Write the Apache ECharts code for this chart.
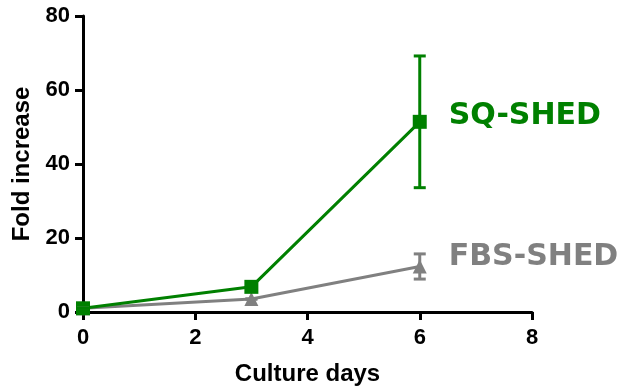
<!DOCTYPE html>
<html>
<head>
<meta charset="utf-8">
<script src="https://cdn.jsdelivr.net/npm/echarts@6/dist/echarts.min.js"></script>
<style>
  html, body { margin: 0; padding: 0; background: #fff; }
  #chart { width: 623px; height: 390px; }
</style>
</head>
<body>
<div id="chart"></div>
<script>
// Culture days at which cells were counted
var days = [0, 3, 6];

// Mean fold increase and error (SD) per time point
var sqMean = [1.0, 6.8, 51.4];
var sqErr = [0, 0, 17.8];
var fbsMean = [1.0, 3.5, 12.3];
var fbsErr = [0, 0, 3.4];

var xTicks = [0, 2, 4, 6, 8];
var yTicks = [0, 20, 40, 60, 80];

var GREEN = '#008000';
var GRAY = '#808080';

function pairs(xs, ys) {
  return xs.map(function (x, i) { return [x, ys[i]]; });
}
function errTriples(xs, ys, es) {
  return xs.map(function (x, i) { return [x, ys[i] - es[i], ys[i] + es[i]]; });
}

function errorBarSeries(data, color) {
  return {
    type: 'custom',
    data: data,
    z: 5,
    silent: true,
    renderItem: function (params, api) {
      var x = api.value(0);
      var lo = api.coord([x, api.value(1)]);
      var hi = api.coord([x, api.value(2)]);
      var half = 6;
      var style = { stroke: color, lineWidth: 3 };
      return {
        type: 'group',
        children: [
          { type: 'line', shape: { x1: lo[0], y1: lo[1], x2: hi[0], y2: hi[1] }, style: style },
          { type: 'line', shape: { x1: hi[0] - half, y1: hi[1], x2: hi[0] + half, y2: hi[1] }, style: style },
          { type: 'line', shape: { x1: lo[0] - half, y1: lo[1], x2: lo[0] + half, y2: lo[1] }, style: style }
        ]
      };
    }
  };
}

var labelFont = 'Verdana, "DejaVu Sans", sans-serif';
var axisFont = 'Arial, "Liberation Sans", sans-serif';

var chart = echarts.init(document.getElementById('chart'), null, { renderer: 'canvas' });

chart.setOption({
  animation: false,
  backgroundColor: '#ffffff',
  grid: { left: 83, right: 91, top: 16, bottom: 78, containLabel: false, outerBoundsMode: 'none' },
  xAxis: {
    type: 'value',
    min: xTicks[0],
    max: xTicks[xTicks.length - 1],
    interval: 2,
    name: 'Culture days',
    nameLocation: 'middle',
    nameGap: 50,
    nameTextStyle: { color: '#000', fontSize: 24, fontWeight: 'bold', fontFamily: axisFont },
    axisLine: { show: true, onZero: false, lineStyle: { color: '#000', width: 3 } },
    axisTick: { show: true, inside: false, length: 8, lineStyle: { color: '#000', width: 3 } },
    axisLabel: {
      margin: 15, color: '#000', fontSize: 22, fontWeight: 'bold', fontFamily: axisFont,
      formatter: function (v) { return xTicks.indexOf(v) >= 0 ? String(v) : ''; }
    },
    splitLine: { show: false }
  },
  yAxis: {
    type: 'value',
    min: yTicks[0],
    max: yTicks[yTicks.length - 1],
    interval: 20,
    name: 'Fold increase',
    nameLocation: 'middle',
    nameGap: 49,
    nameTextStyle: { color: '#000', fontSize: 24, fontWeight: 'bold', fontFamily: axisFont },
    axisLine: { show: true, onZero: false, lineStyle: { color: '#000', width: 3 } },
    axisTick: { show: true, inside: false, length: 8, lineStyle: { color: '#000', width: 3 } },
    axisLabel: {
      margin: 13, color: '#000', fontSize: 22, fontWeight: 'bold', fontFamily: axisFont,
      formatter: function (v) { return yTicks.indexOf(v) >= 0 ? String(v) : ''; }
    },
    splitLine: { show: false }
  },
  series: [
    {
      name: 'FBS-SHED',
      type: 'line',
      data: pairs(days, fbsMean),
      symbol: 'triangle',
      symbolSize: 14,
      lineStyle: { color: GRAY, width: 3 },
      itemStyle: { color: GRAY },
      z: 3,
      endLabel: {
        show: true,
        formatter: '{a}',
        distance: 0,
        offset: [29, -9],
        color: GRAY,
        fontSize: 30,
        fontWeight: 'bold',
        fontFamily: labelFont
      }
    },
    errorBarSeries(errTriples(days, fbsMean, fbsErr), GRAY),
    {
      name: 'SQ-SHED',
      type: 'line',
      data: pairs(days, sqMean),
      symbol: 'rect',
      symbolSize: 14,
      lineStyle: { color: GREEN, width: 3 },
      itemStyle: { color: GREEN },
      z: 4,
      endLabel: {
        show: true,
        formatter: '{a}',
        distance: 0,
        offset: [29, -6],
        color: GREEN,
        fontSize: 30,
        fontWeight: 'bold',
        fontFamily: labelFont
      }
    },
    errorBarSeries(errTriples(days, sqMean, sqErr), GREEN)
  ]
});
</script>
</body>
</html>
